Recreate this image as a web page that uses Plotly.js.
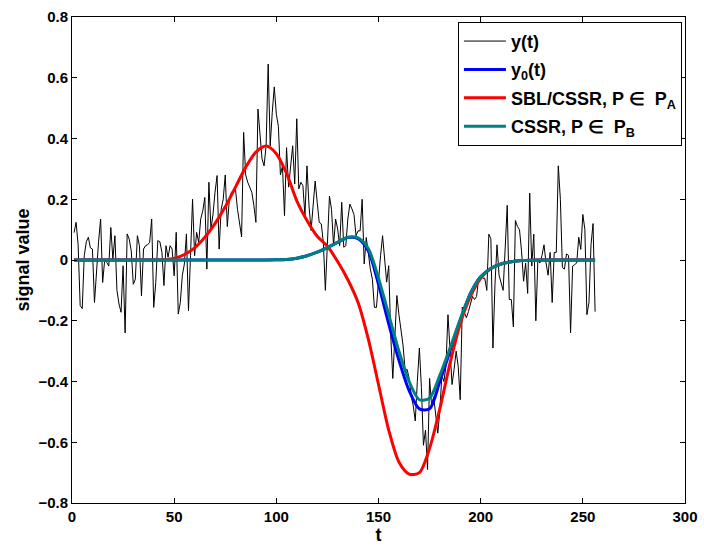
<!DOCTYPE html>
<html>
<head>
<meta charset="utf-8">
<script src="https://cdn.plot.ly/plotly-3.0.1.min.js"></script>
<style>html,body{margin:0;padding:0;background:#fff;}#chart{width:704px;height:546px;}</style>
</head>
<body>
<div id="chart"></div>
<script>
// Noisy observed signal y(t), t = 1..256
const yObs = [
 0.09, 0.124, 0.05, -0.15, -0.16, 0.014, 0.06, 0.075, 0.04, 0.036,
 -0.14, -0.02, 0.06, 0.135, -0.074, 0.0, -0.008, -0.02, 0.107, 0.003,
 0.08, -0.10, -0.145, -0.172, -0.019, -0.24, 0.086, 0.069, 0.03, -0.08,
 -0.063, 0.08, 0.047, -0.118, 0.036, 0.047, 0.05, 0.058, 0.135, -0.156,
 -0.074, 0.064, 0.06, 0.025, -0.084, 0.047, 0.009, 0.047, 0.036, -0.052,
 0.091, -0.178, -0.14, -0.05, -0.013, 0.086, -0.167, 0.014, 0.20, 0.014,
 0.091, 0.058, 0.135, 0.162, 0.206, -0.03, 0.256, 0.102, 0.15, 0.223,
 0.278, 0.036, 0.167, 0.20, 0.28, 0.11, 0.20, 0.223, 0.228, 0.233,
 0.167, 0.12, 0.076, 0.42, 0.28, 0.256, 0.24, 0.223, 0.18, 0.124,
 0.497, 0.42, 0.333, 0.31, 0.376, 0.645, 0.376, 0.486, 0.57, 0.48,
 0.44, 0.28, 0.31, 0.146, 0.37, 0.24, 0.31, 0.376, 0.25, 0.465,
 0.234, 0.256, 0.245, 0.146, 0.31, 0.178, 0.097, 0.19, 0.26, 0.19,
 0.124, 0.119, 0.058, -0.10, 0.036, 0.21, 0.167, 0.047, 0.135, 0.102,
 0.047, 0.19, 0.042, 0.047, 0.135, 0.184, 0.168, 0.15, 0.08, 0.096,
 0.096, 0.20, -0.013, 0.074, 0.025, -0.03, -0.063, -0.156, -0.156, -0.06,
 0.014, 0.08, 0.0, -0.073, -0.019, -0.25, -0.39, -0.26, -0.117, -0.18,
 -0.238, -0.28, -0.36, -0.36, -0.39, -0.446, -0.48, -0.53, -0.40, -0.29,
 -0.42, -0.61, -0.56, -0.69, -0.39, -0.48, -0.45, -0.52, -0.57, -0.50,
 -0.38, -0.40, -0.35, -0.18, -0.29, -0.41, -0.36, -0.30, -0.35, -0.46,
 -0.155, -0.17, -0.19, -0.17, -0.14, -0.12, -0.13, -0.12, -0.06, -0.05,
 -0.06, -0.06, -0.10, 0.085, 0.07, -0.29, -0.08, 0.05, -0.05, -0.08,
 -0.10, 0.04, 0.18, -0.13, -0.13, -0.22, 0.13, 0.11, 0.10, 0.03,
 -0.07, -0.01, -0.11, 0.22, -0.02, 0.085, -0.20, 0.0, -0.01, 0.015,
 0.05, -0.01, -0.05, 0.025, -0.14, 0.025, 0.025, 0.31, 0.20, -0.025,
 -0.03, 0.02, 0.015, -0.24, -0.02, -0.015, -0.01, 0.075, 0.035, 0.15,
 0.10, -0.18, -0.14, 0.05, 0.12, -0.17
];
const tObs = yObs.map((v, i) => i + 1);

// Sample times for the smooth curves
const tCurve = [1,5,10,15,20,25,30,35,40,45,50,55,60,65,70,75,80,85,90,95,
  100,105,110,115,120,125,130,135,140,145,150,155,160,165,170,175,180,185,190,195,
  200,205,210,215,220,225,230,235,240,245,250,255,256];

// True signal y0(t)
const yTrue = [0,0,0,0,0,0,0,0,0,0,0,0,0,0,0,0,0,0,0,0,
  0.0005,0.002,0.006,0.014,0.026,0.041,0.058,0.074,0.070,0.030,
  -0.08,-0.21,-0.33,-0.43,-0.49,-0.49,-0.40,-0.30,-0.20,-0.11,
  -0.055,-0.028,-0.013,-0.006,-0.002,-0.0005,0,0,0,0,0,0,0];

// SBL/CSSR estimate, P in P_A
const ySBL = [0,0,0,0,0,0,0,0,0,0.001,0.005,0.018,0.04,0.075,0.12,0.175,0.24,0.305,0.355,0.375,
  0.35,0.285,0.195,0.13,0.078,0.045,-0.005,-0.065,-0.14,-0.26,
  -0.41,-0.56,-0.665,-0.705,-0.70,-0.62,-0.49,-0.34,-0.21,-0.12,
  -0.06,-0.028,-0.013,-0.006,-0.002,-0.0005,0,0,0,0,0,0,0];

// CSSR estimate, P in P_B
const yCSSR = [0,0,0,0,0,0,0,0,0,0,0,0,0,0,0,0,0,0,0,0,
  0.0005,0.002,0.006,0.014,0.026,0.041,0.058,0.075,0.073,0.038,
  -0.06,-0.18,-0.30,-0.40,-0.46,-0.455,-0.38,-0.29,-0.195,-0.11,
  -0.055,-0.028,-0.013,-0.006,-0.002,-0.0005,0,0,0,0,0,0,0];

const names = ['y(t)', 'y<sub>0</sub>(t)', 'SBL/CSSR, P \u2208  P<sub>A</sub>', 'CSSR, P \u2208  P<sub>B</sub>'];

const traces = [
  {x: tObs, y: yObs, type: 'scatter', mode: 'lines', name: names[0], legendgroup: 'a',
   line: {color: '#000000', width: 1}},
  {x: tCurve, y: yTrue, type: 'scatter', mode: 'lines', name: names[1], legendgroup: 'b',
   line: {color: '#0000ff', width: 3, shape: 'spline', smoothing: 0.8}},
  {x: tCurve, y: ySBL, type: 'scatter', mode: 'lines', name: names[2], legendgroup: 'c',
   line: {color: '#ff0000', width: 3, shape: 'spline', smoothing: 0.8}},
  {x: tCurve, y: yCSSR, type: 'scatter', mode: 'lines', name: names[3], legendgroup: 'd',
   line: {color: '#008080', width: 3, shape: 'spline', smoothing: 0.8}}
];

const FAM = 'Liberation Sans, Arial, sans-serif';
const axisCommon = {
  showline: true, mirror: 'ticks', linecolor: '#000', linewidth: 1,
  ticks: 'inside', ticklen: 5, tickcolor: '#000', showgrid: false, zeroline: false,
  tickfont: {family: FAM, size: 15, color: '#000', weight: 'bold'}
};

const layout = {
  width: 704, height: 546,
  margin: {l: 72, r: 19, t: 17, b: 43},
  paper_bgcolor: '#fff', plot_bgcolor: '#fff',
  font: {family: FAM, size: 15, color: '#000', weight: 'bold'},
  showlegend: true,
  xaxis: Object.assign({}, axisCommon, {
    range: [0, 300], dtick: 50, tick0: 0,
    title: {text: 't', font: {family: FAM, size: 18, weight: 'bold'}, standoff: 3}
  }),
  yaxis: Object.assign({}, axisCommon, {
    range: [-0.8, 0.8], dtick: 0.2, tick0: 0,
    title: {text: 'signal value', font: {family: FAM, size: 18, weight: 'bold'}, standoff: 4}
  }),
  legend: {
    x: 0.995, y: 0.99, xanchor: 'right', yanchor: 'top',
    bgcolor: '#fff', bordercolor: '#000', borderwidth: 1,
    itemwidth: 42, tracegroupgap: 2,
    font: {family: FAM, size: 18, color: '#000', weight: 'bold'}
  }
};

Plotly.newPlot('chart', traces, layout, {displayModeBar: false, staticPlot: true});
</script>
</body>
</html>
